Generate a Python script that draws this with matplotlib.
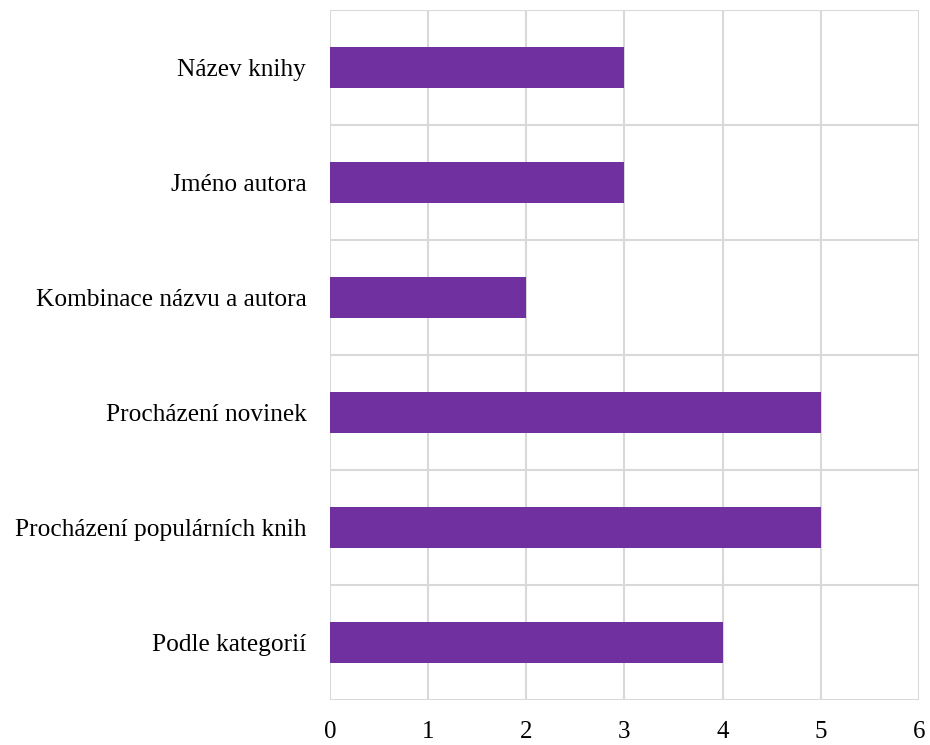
import matplotlib.pyplot as plt
import numpy as np

categories = ['Název knihy', 'Jméno autora', 'Kombinace názvu a autora',
              'Procházení novinek', 'Procházení populárních knih', 'Podle kategorií']
values = [3, 3, 2, 5, 5, 4]
xticks = [0, 1, 2, 3, 4, 5, 6]

plt.rcParams['font.family'] = ['Liberation Serif', 'DejaVu Serif']

fig = plt.figure(figsize=(9.3, 7.45), dpi=100)
ax = fig.add_axes([0.3548, 0.0604, 0.9882 - 0.3548, 0.9866 - 0.0604])

y = np.arange(len(categories))
ax.barh(y, values, height=0.36, color='#7030A0', zorder=3)

ax.set_xlim(0, 6)
ax.set_ylim(len(categories) - 0.5, -0.5)
ax.set_xticks(xticks)
ax.set_xticklabels([str(t) for t in xticks], fontsize=18)
ax.set_yticks(y)
ax.set_yticklabels(categories, fontsize=18.3)

# gridlines: vertical at ticks, horizontal between categories
ax.set_yticks(np.arange(len(categories) + 1) - 0.5, minor=True)
ax.grid(axis='x', which='major', color='#d9d9d9', linewidth=1.5, zorder=0)
ax.grid(axis='y', which='minor', color='#d9d9d9', linewidth=1.5, zorder=0)
ax.tick_params(axis='both', which='both', length=0)
ax.tick_params(axis='y', pad=17)
ax.tick_params(axis='x', pad=15)
for s in ax.spines.values():
    s.set_visible(False)

fig.savefig('out.png', dpi=100)
